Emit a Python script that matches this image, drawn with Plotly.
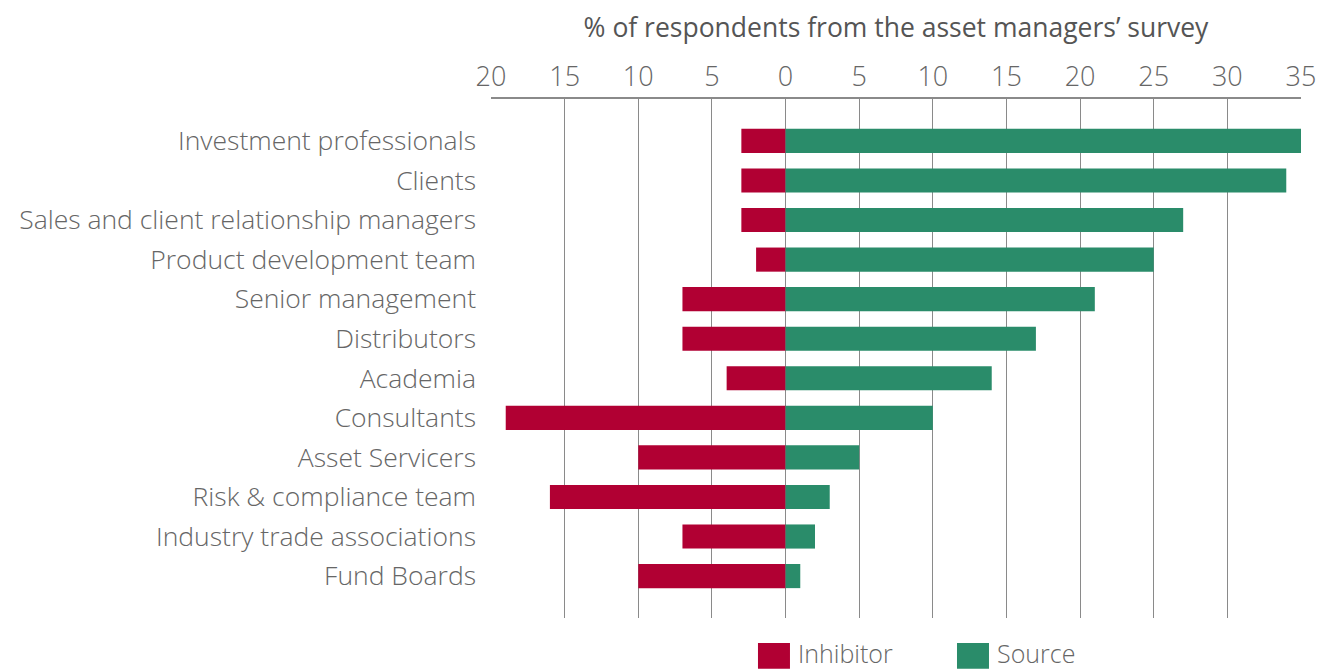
import plotly.graph_objects as go

categories = ["Investment professionals", "Clients", "Sales and client relationship managers",
              "Product development team", "Senior management", "Distributors", "Academia",
              "Consultants", "Asset Servicers", "Risk & compliance team",
              "Industry trade associations", "Fund Boards"]
inhibitor = [3, 3, 3, 2, 7, 7, 4, 19, 10, 16, 7, 10]
source = [35, 34, 27, 25, 21, 17, 14, 10, 5, 3, 2, 1]
tick_vals = [-20, -15, -10, -5, 0, 5, 10, 15, 20, 25, 30, 35]
tick_text = ["20", "15", "10", "5", "0", "5", "10", "15", "20", "25", "30", "35"]

RED = "#B10033"
GREEN = "#2A8C6A"
TXT = "#666666"
FONT = "Open Sans"

fig = go.Figure()
fig.add_trace(go.Bar(y=categories, x=[-v for v in inhibitor], orientation="h",
                     marker=dict(color=RED, line=dict(width=0)), name="Inhibitor",
                     width=0.61, showlegend=False))
fig.add_trace(go.Bar(y=categories, x=source, orientation="h",
                     marker=dict(color=GREEN, line=dict(width=0)), name="Source",
                     width=0.61, showlegend=False))

fig.update_layout(
    width=1318, height=669,
    barmode="overlay",
    plot_bgcolor="white", paper_bgcolor="white",
    margin=dict(l=491, r=17, t=99, b=51, autoexpand=False),
    font=dict(family=FONT, color=TXT, size=26, weight=300),
    xaxis=dict(side="top", range=[-20, 35], tickvals=tick_vals, ticktext=tick_text,
               automargin=False,
               showgrid=True, gridcolor="#8a8a8a", gridwidth=1.3,
               showline=True, linecolor="#8a8a8a", linewidth=1.5, mirror=False,
               zeroline=True, zerolinecolor="#8a8a8a", zerolinewidth=1.3,
               ticks="", tickfont=dict(size=27, color=TXT),
               title=dict(text="% of respondents from the asset managers\u2019 survey",
                          font=dict(size=26.5, color="#555555", weight=400), standoff=12)),
    yaxis=dict(categoryorder="array", categoryarray=categories, automargin=False,
               range=[12.06, -1.06], showgrid=False, zeroline=False,
               ticks="", ticklabelstandoff=14, tickfont=dict(size=26.5, color=TXT)),
)

# legend drawn in paper coordinates
for x0, label, col in [(0.3296, "Inhibitor", RED), (0.5753, "Source", GREEN)]:
    fig.add_shape(type="rect", xref="paper", yref="paper",
                  x0=x0, x1=x0 + 0.0395, y0=-0.098, y1=-0.048,
                  fillcolor=col, line=dict(width=0))
    fig.add_annotation(xref="paper", yref="paper", x=x0 + 0.0395 + 0.008, y=-0.067,
                       text=label, showarrow=False, xanchor="left", yanchor="middle",
                       font=dict(size=25, color=TXT))

fig.write_html("out.html", config={"displayModeBar": False},
               post_script="document.body.style.margin='0';document.body.style.overflow='hidden';")
